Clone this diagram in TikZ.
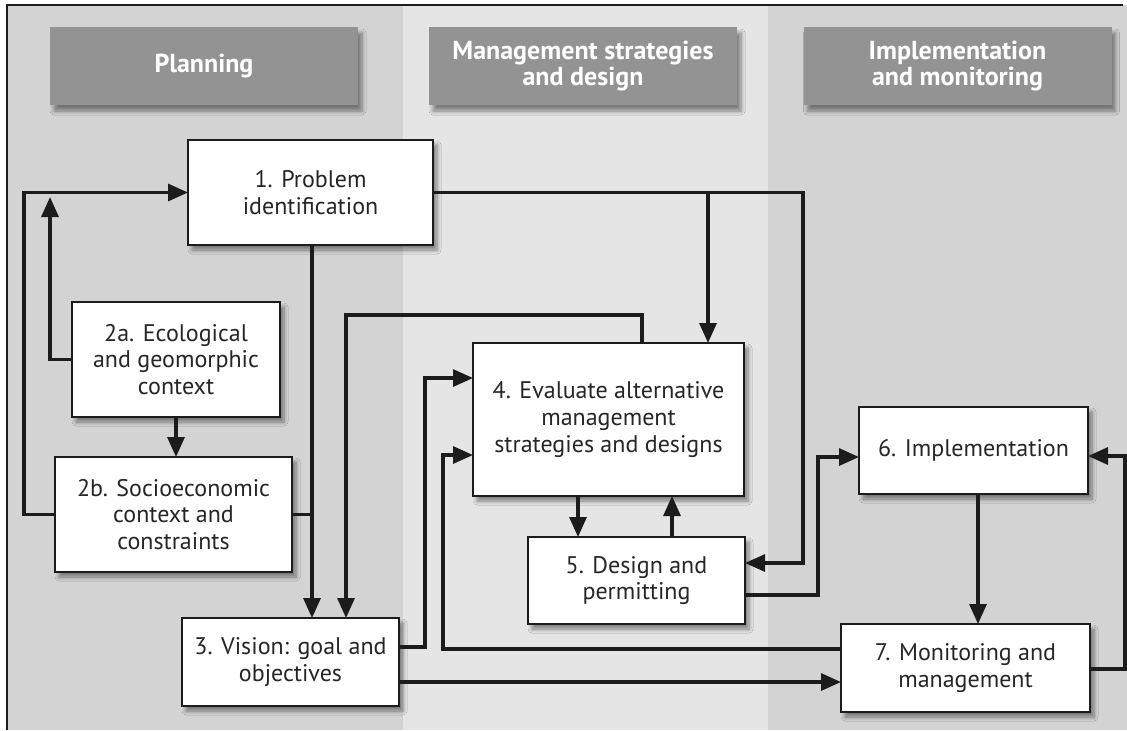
\documentclass[tikz,border=0pt]{standalone}
\usepackage{fontspec}
\setmainfont{PT Sans}
\usetikzlibrary{arrows.meta,shadows.blur}
\definecolor{dk}{HTML}{D3D3D3}
\definecolor{lt}{HTML}{E5E5E5}
\definecolor{hdrgray}{HTML}{939393}
\definecolor{ink}{HTML}{1C1C1C}
\definecolor{txt}{HTML}{262626}
\begin{document}
\begin{tikzpicture}[x=0.5pt,y=-0.5pt,
  box/.style={draw=ink, line width=1pt, fill=white, inner sep=0pt, outer sep=0pt,
    align=center, text=txt, font=\fontsize{12}{13.4}\selectfont,
    blur shadow={shadow xshift=2pt, shadow yshift=-2.5pt, shadow blur steps=6, shadow opacity=45}},
  hdr/.style={fill=hdrgray, inner sep=0pt, outer sep=0pt, align=center, text=white,
    font=\bfseries\fontsize{13}{12.8}\selectfont,
    minimum width=154pt, minimum height=39pt,
    blur shadow={shadow xshift=2pt, shadow yshift=-3pt, shadow blur steps=6, shadow opacity=45}},
  conn/.style={line width=1.6pt, draw=ink},
  arr/.style={conn, -{Triangle[length=10pt,width=8.5pt]}}]
\useasboundingbox (0,0) rectangle (1127,730);
\fill[white] (0,0) rectangle (1127,730);
\fill[dk] (7,5) rectangle (403,730);
\fill[lt] (403,5) rectangle (768,730);
\fill[dk] (768,5) rectangle (1127,730);
\draw[ink, line width=1.3pt] (7,730) -- (7,5) -- (1123,5);

% headers
\node[hdr] (h1) at (204,66) {Planning};
\node[hdr] (h2) at (583,66) {Management strategies\\and design};
\node[hdr] (h3) at (957.5,66) {Implementation\\and monitoring};

% boxes
\node[box, minimum width=122.5pt, minimum height=52.5pt] (n1) at (310.5,192.5) {1. Problem\\identification};
\node[box, minimum width=104pt, minimum height=57.5pt] (n2a) at (176,359.5) {2a. Ecological\\and geomorphic\\context};
\node[box, minimum width=118.5pt, minimum height=57.5pt] (n2b) at (173.5,514.5) {2b. Socioeconomic\\context and\\constraints};
\node[box, minimum width=108.5pt, minimum height=44pt] (n3) at (290.5,662) {3. Vision: goal and\\objectives};
\node[box, minimum width=135.5pt, minimum height=76.5pt] (n4) at (608.5,419.5) {4. Evaluate alternative\\management\\strategies and designs};
\node[box, minimum width=108.5pt, minimum height=43.5pt] (n5) at (636.5,580.5) {5. Design and\\permitting};
\node[box, minimum width=114.5pt, minimum height=43.5pt] (n6) at (973.5,450.5) {6. Implementation};
\node[box, minimum width=124.5pt, minimum height=44pt] (n7) at (965.5,668) {7. Monitoring and\\management};

\coordinate (c2a) at (50,197);

% connectors
\draw[arr] (n2b.west) -- (24,0 |- n2b.west) |- (n1.west);
\draw[arr] (n2a.west) -| (c2a);
\draw[arr] (n2a.south) -- (n2a.south |- n2b.north);
\draw[arr] (312,0 |- n1.south) -- (312,0 |- n3.north);
\draw[conn] (n2b.east) -- (312,0 |- n2b.east);
\draw[arr] (642,0 |- n4.north) |- (346,315) -- (346,0 |- n3.north);
\draw[arr] (n1.east) -| (708,0 |- n4.north);
\draw[arr] (n1.east) -| (803,563) -- (n5.east |- 0,563);
\draw[arr] (n3.east |- 0,647) -| (425,378) -- (n4.west |- 0,378);
\draw[arr] (n7.west |- 0,649) -| (443,455) -- (n4.west |- 0,455);
\draw[arr] (n3.east |- 0,682) -- (n7.west |- 0,682);
\draw[arr] (578,0 |- n4.south) -- (578,0 |- n5.north);
\draw[arr] (672,0 |- n5.north) -- (672,0 |- n4.south);
\draw[arr] (n5.east |- 0,595) -| (818,457) -- (n6.west |- 0,457);
\draw[arr] (978,0 |- n6.south) -- (978,0 |- n7.north);
\draw[arr] (n7.east |- 0,669) -| (1125,456) -- (n6.east |- 0,456);
\end{tikzpicture}
\end{document}
